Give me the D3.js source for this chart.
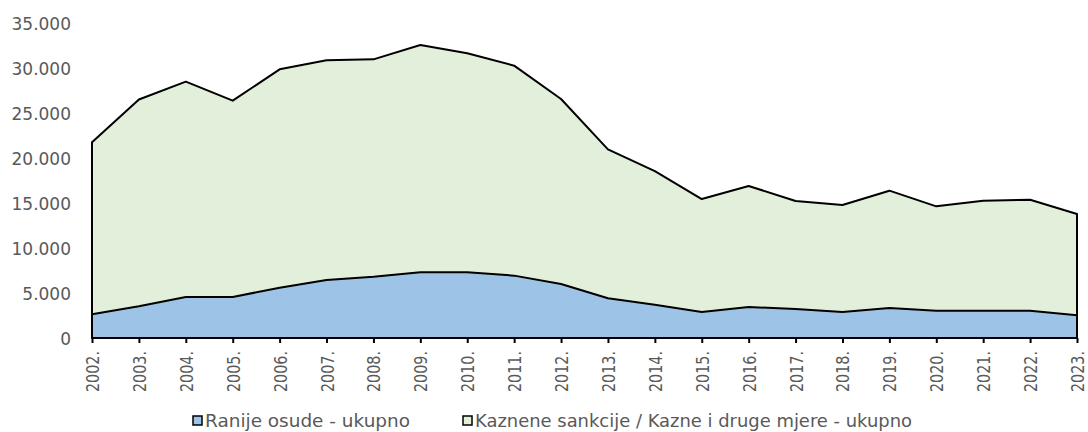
<!DOCTYPE html>
<html>
<head>
<meta charset="utf-8">
<script src="https://cdn.jsdelivr.net/npm/d3@7"></script>
<style>
  body { margin: 0; background: #fff; }
  text { font-family: "DejaVu Sans", Verdana, sans-serif; fill: #595959; }
</style>
</head>
<body>
<svg id="chart" width="1088" height="432"></svg>
<script>
// years on the x axis
var years = ["2002.", "2003.", "2004.", "2005.", "2006.", "2007.", "2008.", "2009.", "2010.", "2011.", "2012.",
  "2013.", "2014.", "2015.", "2016.", "2017.", "2018.", "2019.", "2020.", "2021.", "2022.", "2023."];

// Kaznene sankcije / Kazne i druge mjere - ukupno
var sankcije = [21750, 26500, 28480, 26370, 29850, 30850, 30960, 32550, 31630, 30260, 26550,
  20960, 18550, 15440, 16890, 15220, 14780, 16370, 14630, 15260, 15370, 13780];

// Ranije osude - ukupno
var ranije = [2630, 3520, 4560, 4560, 5590, 6440, 6810, 7300, 7300, 6930, 6000,
  4410, 3700, 2890, 3440, 3220, 2890, 3330, 3040, 3040, 3040, 2520];

var yTicks = [0, 5000, 10000, 15000, 20000, 25000, 30000, 35000];
var seriesNames = ["Ranije osude - ukupno", "Kaznene sankcije / Kazne i druge mjere - ukupno"];
var seriesColors = ["#9dc3e6", "#e2efda"];

var svg = d3.select("#chart");
var plotL = 92, plotR = 1077, plotT = 23, plotB = 338;

var x = d3.scalePoint().domain(years).range([plotL, plotR]);
var y = d3.scaleLinear().domain([0, 35000]).range([plotB, plotT]);

var fmt = function(d) { return d3.format(",")(d).replace(/,/g, "."); };

// areas, green behind blue
var area = d3.area()
  .x(function(d, i) { return x(years[i]); })
  .y0(y(0))
  .y1(function(d) { return y(d); });

[sankcije, ranije].forEach(function(vals, k) {
  svg.append("path")
    .datum(vals)
    .attr("d", area)
    .attr("fill", k == 0 ? seriesColors[1] : seriesColors[0])
    .attr("stroke", "#000")
    .attr("stroke-width", 2)
    .attr("stroke-linejoin", "round");
});

// y axis labels (no line)
var yAxis = svg.append("g")
  .attr("transform", "translate(" + (plotL - 21) + ",0)")
  .call(d3.axisLeft(y).tickValues(yTicks).tickFormat(fmt).tickSize(0).tickPadding(0));
yAxis.select(".domain").remove();
yAxis.selectAll("text")
  .attr("font-size", 17)
  .attr("font-family", "DejaVu Sans, sans-serif")
  .attr("fill", "#595959")
  .attr("dy", "0.36em");

// x axis
var xAxis = svg.append("g")
  .attr("transform", "translate(0," + plotB + ")")
  .call(d3.axisBottom(x).tickSize(5).tickSizeOuter(0));
xAxis.select(".domain").attr("stroke", "#000").attr("stroke-width", 2)
  .attr("d", "M" + plotL + ",0H" + plotR);
xAxis.selectAll(".tick line").attr("stroke", "#000").attr("stroke-width", 2);
xAxis.selectAll("text")
  .attr("font-size", 18)
  .attr("font-family", "DejaVu Sans, sans-serif")
  .attr("fill", "#595959")
  .attr("transform", "rotate(-90)")
  .attr("text-anchor", "end")
  .attr("x", -13)
  .attr("y", 0)
  .attr("dy", "0.36em")
  .attr("textLength", 41)
  .attr("lengthAdjust", "spacingAndGlyphs");

// legend (nudged up a little so descenders stay on the page)
var legendX = [193, 463];
var legendW = [205, 437];
var legend = svg.append("g");
seriesNames.forEach(function(name, i) {
  legend.append("rect")
    .attr("x", legendX[i])
    .attr("y", 416)
    .attr("width", 9)
    .attr("height", 9)
    .attr("fill", seriesColors[i])
    .attr("stroke", "#000")
    .attr("stroke-width", 1.5);
  legend.append("text")
    .attr("x", legendX[i] + 12)
    .attr("y", 427)
    .attr("font-size", 17)
    .attr("textLength", legendW[i])
    .attr("lengthAdjust", "spacingAndGlyphs")
    .text(name);
});
</script>
</body>
</html>
